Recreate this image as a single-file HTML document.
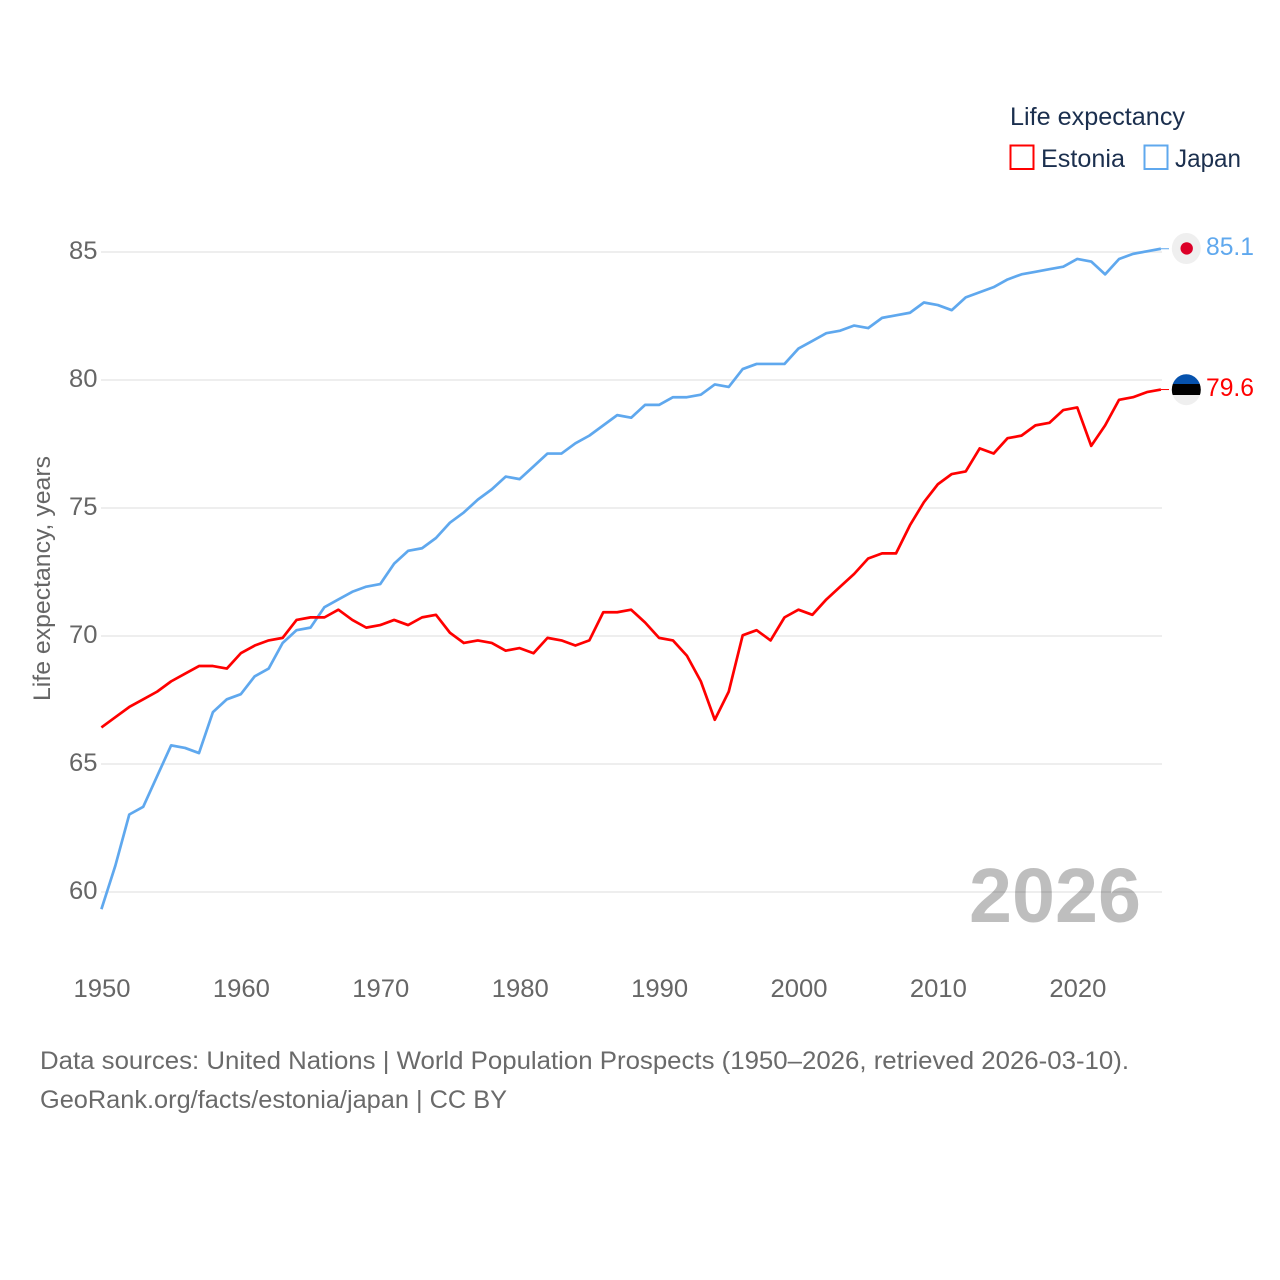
<!DOCTYPE html>
<html lang="en">
<head>
<meta charset="utf-8">
<title>Life expectancy: Estonia and Japan</title>
<style>
html,body{margin:0;padding:0;background:#fff;}
svg{display:block;font-family:"Liberation Sans",sans-serif;}
</style>
</head>
<body>
<svg id="chart" width="1280" height="1280" viewBox="0 0 1280 1280" xmlns="http://www.w3.org/2000/svg">
  <rect x="0" y="0" width="1280" height="1280" fill="#ffffff"/>
  <g id="grid"></g>
  <g id="yticks"></g>
  <g id="xticks"></g>
  <text transform="translate(50,701) rotate(-90)" font-size="24" fill="#666666" textLength="245" lengthAdjust="spacingAndGlyphs">Life expectancy, years</text>
  <text x="969" y="922" font-size="77" font-weight="700" fill="#000000" fill-opacity="0.255" textLength="172" lengthAdjust="spacingAndGlyphs">2026</text>
  <g id="series"></g>

  <g>
    <text x="1010" y="125" font-size="25" fill="#1b2f4e" textLength="175" lengthAdjust="spacingAndGlyphs">Life expectancy</text>
    <rect x="1010.5" y="145.5" width="23" height="23.5" fill="#ffffff" stroke="#ff0000" stroke-width="2"/>
    <text x="1041" y="167" font-size="25" fill="#1b2f4e" textLength="84" lengthAdjust="spacingAndGlyphs">Estonia</text>
    <rect x="1144.5" y="145.5" width="23" height="23.5" fill="#ffffff" stroke="#5fa8ee" stroke-width="2"/>
    <text x="1175" y="167" font-size="25" fill="#1b2f4e" textLength="66" lengthAdjust="spacingAndGlyphs">Japan</text>
  </g>

  <g id="flags">
    <ellipse cx="1186.3" cy="248.5" rx="14.5" ry="15.5" fill="#efefef"/>
    <circle cx="1186.7" cy="248.4" r="6.2" fill="#dc0028"/>
    <clipPath id="estoniaClip"><ellipse cx="1186.3" cy="389.7" rx="14.5" ry="15.5"/></clipPath>
    <g clip-path="url(#estoniaClip)">
      <rect x="1170" y="373" width="34" height="34" fill="#efefef"/>
      <rect x="1170" y="373" width="34" height="11" fill="#0652ad"/>
      <rect x="1170" y="384" width="34" height="11" fill="#000000"/>
    </g>
  </g>
  <text x="1206" y="255" font-size="25" fill="#5fa8ee" textLength="48" lengthAdjust="spacingAndGlyphs">85.1</text>
  <text x="1206" y="396" font-size="25" fill="#ff0000" textLength="48" lengthAdjust="spacingAndGlyphs">79.6</text>

  <text x="40" y="1069" font-size="25" fill="#6a6a6a" textLength="1089" lengthAdjust="spacingAndGlyphs">Data sources: United Nations | World Population Prospects (1950–2026, retrieved 2026-03-10).</text>
  <text x="40" y="1108" font-size="25" fill="#6a6a6a" textLength="467" lengthAdjust="spacingAndGlyphs">GeoRank.org/facts/estonia/japan | CC BY</text>
</svg>
<script>
const firstYear = 1950;
const yTickValues = [60, 65, 70, 75, 80, 85];
const xTickValues = [1950, 1960, 1970, 1980, 1990, 2000, 2010, 2020];
const estoniaValues = [
  66.4,66.8,67.2,67.5,67.8,68.2,68.5,68.8,68.8,68.7,
  69.3,69.6,69.8,69.9,70.6,70.7,70.7,71.0,70.6,70.3,
  70.4,70.6,70.4,70.7,70.8,70.1,69.7,69.8,69.7,69.4,
  69.5,69.3,69.9,69.8,69.6,69.8,70.9,70.9,71.0,70.5,
  69.9,69.8,69.2,68.2,66.7,67.8,70.0,70.2,69.8,70.7,
  71.0,70.8,71.4,71.9,72.4,73.0,73.2,73.2,74.3,75.2,
  75.9,76.3,76.4,77.3,77.1,77.7,77.8,78.2,78.3,78.8,
  78.9,77.4,78.2,79.2,79.3,79.5,79.6
];
const japanValues = [
  59.3,61.0,63.0,63.3,64.5,65.7,65.6,65.4,67.0,67.5,
  67.7,68.4,68.7,69.7,70.2,70.3,71.1,71.4,71.7,71.9,
  72.0,72.8,73.3,73.4,73.8,74.4,74.8,75.3,75.7,76.2,
  76.1,76.6,77.1,77.1,77.5,77.8,78.2,78.6,78.5,79.0,
  79.0,79.3,79.3,79.4,79.8,79.7,80.4,80.6,80.6,80.6,
  81.2,81.5,81.8,81.9,82.1,82.0,82.4,82.5,82.6,83.0,
  82.9,82.7,83.2,83.4,83.6,83.9,84.1,84.2,84.3,84.4,
  84.7,84.6,84.1,84.7,84.9,85.0,85.1
];

const SVG_NS = 'http://www.w3.org/2000/svg';
function xScale(year) { return 102 + (year - 1950) * (1161.5 - 102) / 76; }
function yScale(value) { return 252 + (85 - value) * 25.6; }
function make(tag, attrs, parent) {
  const el = document.createElementNS(SVG_NS, tag);
  for (const k in attrs) el.setAttribute(k, attrs[k]);
  parent.appendChild(el);
  return el;
}

const gridGroup = document.getElementById('grid');
const yGroup = document.getElementById('yticks');
yTickValues.forEach(function (v) {
  const line = make('line', {x1: 101, x2: 1162, y1: yScale(v), y2: yScale(v), stroke: '#eeeeee', 'stroke-width': 2}, gridGroup);
  
  
  const label = make('text', {x: 97.5, y: yScale(v) + 7, 'text-anchor': 'end', 'font-size': 25, fill: '#666666', textLength: 28.5, lengthAdjust: 'spacingAndGlyphs'}, yGroup);
  label.textContent = String(v);
  
  
});

const xGroup = document.getElementById('xticks');
xTickValues.forEach(function (year) {
  const label = make('text', {x: xScale(year), y: 997, 'text-anchor': 'middle', 'font-size': 25, fill: '#666666', textLength: 57, lengthAdjust: 'spacingAndGlyphs'}, xGroup);
  label.textContent = String(year);
  
  
});

function pathFor(values) {
  return values.map(function (v, i) {
    return (i ? 'L' : 'M') + (xScale(firstYear + i) - 0.6).toFixed(2) + ' ' + (yScale(v) - 0.7).toFixed(2);
  }).join(' ');
}

const seriesGroup = document.getElementById('series');
const japanLine = make('path', {d: pathFor(japanValues), fill: 'none', stroke: '#5fa8ee', 'stroke-width': 2.7, 'stroke-linejoin': 'round'}, seriesGroup);


const estoniaLine = make('path', {d: pathFor(estoniaValues), fill: 'none', stroke: '#ff0000', 'stroke-width': 2.7, 'stroke-linejoin': 'round'}, seriesGroup);



const lastYear = firstYear + japanValues.length - 1;
const japanEnd = yScale(japanValues[japanValues.length - 1]) - 0.7;
const japanConnector = make('line', {x1: xScale(lastYear) - 0.6, x2: 1169, y1: japanEnd, y2: japanEnd, stroke: '#5fa8ee', 'stroke-width': 1}, seriesGroup);


const estoniaEnd = yScale(estoniaValues[estoniaValues.length - 1]) - 0.7;
const estoniaConnector = make('line', {x1: xScale(lastYear) - 0.6, x2: 1169, y1: estoniaEnd, y2: estoniaEnd, stroke: '#ff0000', 'stroke-width': 1}, seriesGroup);


</script>
</body>
</html>
